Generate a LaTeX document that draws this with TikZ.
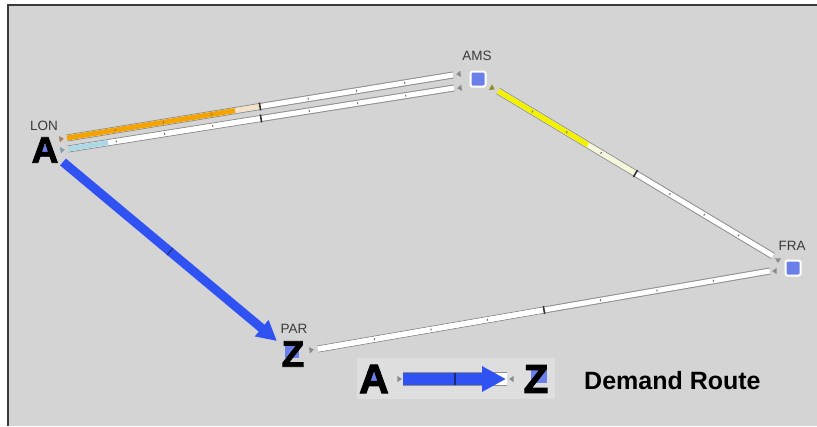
\documentclass[tikz,border=0pt]{standalone}
\usepackage{fontspec}
\setmainfont{Liberation Sans}
\newfontfamily\heavyfont{Liberation Sans}[BoldFeatures={FakeBold=2.5}]
\usetikzlibrary{arrows.meta,calc,shapes.geometric}
\definecolor{bg}{HTML}{D4D4D4}
\definecolor{legendbg}{HTML}{DEDEDE}
\definecolor{frameline}{HTML}{3A3A3A}
\definecolor{nodeblue}{HTML}{6A7FE8}
\definecolor{routeblue}{HTML}{3152F2}
\definecolor{linkedge}{HTML}{8E8E8E}
\definecolor{orangefill}{HTML}{F5A300}
\definecolor{paleorange}{HTML}{F3E2C8}
\definecolor{lightbluefill}{HTML}{ADD8E6}
\definecolor{yellowfill}{HTML}{F2F200}
\definecolor{paleyellow}{HTML}{F6F6DA}
\definecolor{labelgray}{HTML}{3A3A3A}
\definecolor{markgray}{HTML}{8A8A8A}
\newcommand\mylink[5]{%
  \draw[line width=7pt, linkedge] (#1) -- (#2);
  \draw[line width=5pt, white] (#1) -- (#2);
  \draw[line width=5pt, #5] (#1) -- ($(#1)!0.5!(#2)$);
  \draw[line width=5pt, #3] (#1) -- ($(#1)!#4!(#2)$);
  \foreach \p in {0.125,0.25,0.375,0.625,0.75,0.875}
    \path (#1) -- (#2) node[pos=\p, sloped, dotmark]{};
  \path (#1) -- (#2) node[pos=0.5, sloped, tickmark]{};
}
\begin{document}
\begin{tikzpicture}[x=1pt,y=-1pt,
  dotmark/.style={rectangle, fill=black!55, inner sep=0pt, minimum width=1pt, minimum height=2pt},
  tickmark/.style={rectangle, fill=black!80, inner sep=0pt, minimum width=1.6pt, minimum height=8pt},
  endmark/.style={isosceles triangle, isosceles triangle apex angle=70, inner sep=0pt, minimum height=4.5pt, minimum width=4.5pt, fill=markgray},
  sitelabel/.style={font=\fontsize{13.5}{15}\selectfont, text=labelgray, inner sep=0pt},
  sitebox/.style={rectangle, rounded corners=1.5pt, fill=nodeblue, draw=white, line width=2pt, minimum size=15pt, inner sep=0pt},
  iconbox/.style={rectangle, fill=nodeblue, inner sep=0pt, minimum size=12pt},
  bigletter/.style={font=\heavyfont\fontsize{37}{38}\bfseries, text=black, inner sep=0pt},
  route/.style={line width=9pt, draw=routeblue, -{Triangle[length=20pt,width=20pt]}},
]
\useasboundingbox (0,0) rectangle (817,426);
\fill[white] (0,0) rectangle (817,426);
\fill[bg] (8,5) rectangle (817,426);
\draw[frameline, line width=2pt] (8,426) -- (8,5) -- (817,5);

% sites
\node[iconbox] (lonicon) at (45,151) {};
\node[bigletter] (lon) at (45,150) {A};
\node[sitelabel] (lonlab) at (44,126) {LON};
\node[sitebox] (ams) at (478,79) {};
\node[sitelabel] (amslab) at (477,56) {AMS};
\node[sitebox] (fra) at (793,268) {};
\node[sitelabel] (fralab) at (792,246) {FRA};
\node[iconbox, minimum size=14pt] (paricon) at (292,351) {};
\node[bigletter] (par) at (293,354) {Z};
\node[sitelabel] (parlab) at (294,329) {PAR};

% link end points
\coordinate (lonUs) at (67,138);  \coordinate (amsUe) at (453,75);
\coordinate (lonLs) at (68,149);  \coordinate (amsLe) at (454,88);
\coordinate (amsFs) at (498,91);  \coordinate (fraAe) at (773,256);
\coordinate (parFs) at (318,349); \coordinate (fraPe) at (770,271);

\mylink{lonUs}{amsUe}{orangefill}{0.435}{paleorange}
\mylink{lonLs}{amsLe}{lightbluefill}{0.104}{white}
\mylink{amsFs}{fraAe}{yellowfill}{0.327}{paleyellow}
\mylink{parFs}{fraPe}{white}{0.5}{white}

% end markers
\node[endmark, fill=brown!70!gray, rotate=9] (m1) at (61,139) {};
\node[endmark, fill=gray!70!cyan, rotate=9] (m2) at (62,150) {};
\node[endmark, rotate=189] (m3) at (459,74) {};
\node[endmark, rotate=189] (m4) at (460,88) {};
\node[endmark, fill=olive!80!gray, rotate=-31] (m5) at (492,88) {};
\node[endmark, rotate=-90] (m6) at (778,260) {};
\node[endmark, rotate=180] (m7) at (775,271) {};
\node[endmark, rotate=9] (m8) at (311,350) {};

% demand route LON -> PAR
\coordinate (rs) at (63,162);
\coordinate (re) at (277,341);
\draw[route] (rs) -- (re);
\path (rs) -- (re) node[pos=0.5, sloped, rectangle, fill=routeblue!60!black, inner sep=0pt, minimum width=1.2pt, minimum height=9pt] {};

% legend
\node[rectangle, fill=legendbg, minimum width=198pt, minimum height=41pt, inner sep=0pt] (legend) at (456,378.5) {};
\node[iconbox, minimum size=14pt] (legAicon) at (374,378) {};
\node[bigletter, font=\heavyfont\fontsize{41}{42}\bfseries] (legA) at (374,379) {A};
\node[iconbox, minimum size=16pt] (legZicon) at (539,375) {};
\node[bigletter, font=\heavyfont\fontsize{40}{42}\bfseries] (legZ) at (536,379) {Z};
\coordinate (ls) at (403,379);
\coordinate (le) at (507,379);
\draw[line width=14pt, linkedge] (ls) -- (le);
\draw[line width=12pt, white] (ls) -- (le);
\draw[line width=12pt, draw=routeblue, -{Triangle[length=24pt,width=24pt]}] (ls) -- ([xshift=-1pt]le);
\path (ls) -- (le) node[pos=0.5, rectangle, fill=routeblue!50!black, inner sep=0pt, minimum width=1.6pt, minimum height=12pt] {};
\node[endmark] (m9) at (399,379) {};
\node[endmark, rotate=180] (m10) at (512,379) {};
\node[anchor=west, font=\fontsize{25}{28}\bfseries, inner sep=0pt] (legtext) at (584,381) {Demand Route};
\end{tikzpicture}
\end{document}
